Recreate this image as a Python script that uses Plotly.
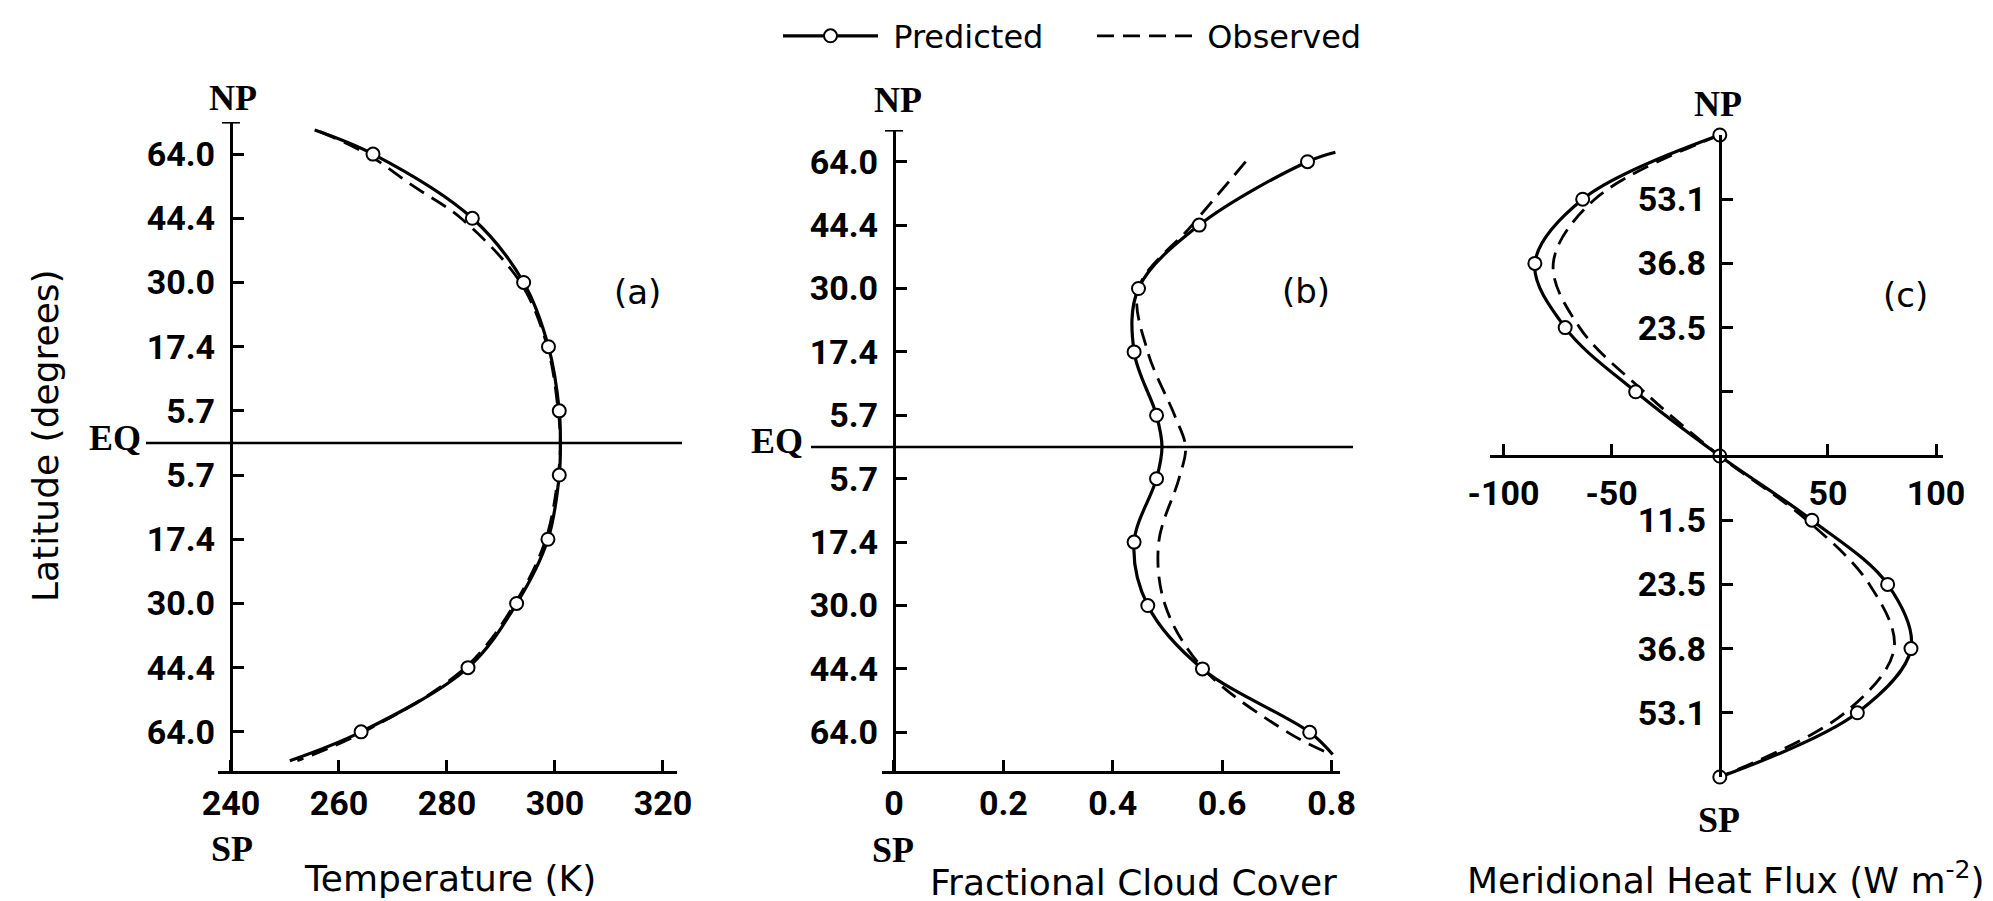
import plotly.graph_objects as go

# ---------------- data (latitude axis is sin(latitude)) ----------------
# Panel (a) temperature (K)
a_pred_lat = [0.975, 0.9, 0.7, 0.5, 0.3, 0.1, 0.0, -0.1, -0.3, -0.5, -0.7, -0.9, -0.99]
a_pred_val = [255.5, 266.3, 284.7, 294.2, 298.8, 300.8, 301.0, 300.8, 298.7, 292.9, 283.9, 264.1, 250.9]
a_mark_lat = [0.9, 0.7, 0.5, 0.3, 0.1, -0.1, -0.3, -0.5, -0.7, -0.9]
a_mark_val = [266.3, 284.7, 294.2, 298.8, 300.8, 300.8, 298.7, 292.9, 283.9, 264.1]
a_obs_lat = [0.97, 0.9, 0.8, 0.7, 0.5, 0.3, 0.1, 0.0, -0.1, -0.3, -0.5, -0.7, -0.9, -0.99]
a_obs_val = [256.5, 265.2, 273.8, 282.6, 293.6, 298.6, 300.6, 301.0, 300.6, 298.3, 292.6, 283.4, 264.6, 252.3]

# Panel (b) fractional cloud cover
b_pred_lat = [0.93, 0.9, 0.7, 0.5, 0.3, 0.1, 0.0, -0.1, -0.3, -0.5, -0.7, -0.9, -0.97]
b_pred_val = [0.807, 0.756, 0.558, 0.447, 0.439, 0.480, 0.490, 0.480, 0.439, 0.464, 0.564, 0.760, 0.802]
b_mark_lat = [0.9, 0.7, 0.5, 0.3, 0.1, -0.1, -0.3, -0.5, -0.7, -0.9]
b_mark_val = [0.756, 0.558, 0.447, 0.439, 0.480, 0.480, 0.439, 0.464, 0.564, 0.760]
b_obs_lat = [0.9, 0.7, 0.5, 0.3, 0.1, 0.0, -0.1, -0.3, -0.5, -0.7, -0.9, -0.97]
b_obs_val = [0.643, 0.545, 0.447, 0.464, 0.513, 0.533, 0.521, 0.484, 0.496, 0.566, 0.720, 0.800]

# Panel (c) meridional heat flux (W m-2)
c_lat = [1.0, 0.8, 0.6, 0.4, 0.2, 0.0, -0.2, -0.4, -0.6, -0.8, -1.0]
c_pred_val = [0.0, -63.4, -85.5, -71.5, -38.9, 0.0, 42.6, 77.6, 88.4, 63.6, 0.0]
c_obs_val = [0.0, -57.8, -77.0, -64.8, -35.0, 0.0, 40.3, 69.2, 80.6, 57.8, 0.0]

# tick labels
ab_tickvals = [0.9, 0.7, 0.5, 0.3, 0.1, -0.1, -0.3, -0.5, -0.7, -0.9]
ab_ticktext = ["64.0", "44.4", "30.0", "17.4", "5.7", "5.7", "17.4", "30.0", "44.4", "64.0"]
c_tickvals = [0.8, 0.6, 0.4, 0.2, -0.2, -0.4, -0.6, -0.8]
c_ticktext = ["53.1", "36.8", "23.5", "", "11.5", "23.5", "36.8", "53.1"]
a_xticks = [240, 260, 280, 300, 320]
b_xticks = [0, 0.2, 0.4, 0.6, 0.8]
b_xticktext = ["0", "0.2", "0.4", "0.6", "0.8"]
c_xticks = [-100, -50, 50, 100]
c_xticktext = ["-100", "-50", "50", "100"]

# ---------------- layout helpers ----------------
W, H = 1993, 901
def fx(p):
    return p / W
def fy(p):
    return 1 - p / H

TICKF = "Roboto, Liberation Sans, sans-serif"
SANS = "DejaVu Sans, Liberation Sans, sans-serif"
SERIF = "Liberation Serif, Times New Roman, serif"

LW = 3.2
MARK = dict(symbol="circle", size=13, color="white", line=dict(color="black", width=2))
DASH = "17px,9px"
NBSP = "\u00a0"

fig = go.Figure()

def add_panel(xa, ya, pl, pv, ml, mv, ol, ov):
    fig.add_trace(go.Scatter(x=ov, y=ol, xaxis=xa, yaxis=ya, mode="lines", name="Observed",
                             line=dict(color="black", width=2.8, dash=DASH, shape="spline"),
                             showlegend=False, cliponaxis=False, hoverinfo="skip"))
    fig.add_trace(go.Scatter(x=pv, y=pl, xaxis=xa, yaxis=ya, mode="lines", name="Predicted",
                             line=dict(color="black", width=LW, shape="spline"),
                             showlegend=False, cliponaxis=False, hoverinfo="skip"))
    fig.add_trace(go.Scatter(x=mv, y=ml, xaxis=xa, yaxis=ya, mode="markers", name="Predicted",
                             marker=MARK, showlegend=False, cliponaxis=False))

add_panel("x", "y", a_pred_lat, a_pred_val, a_mark_lat, a_mark_val, a_obs_lat, a_obs_val)
add_panel("x2", "y2", b_pred_lat, b_pred_val, b_mark_lat, b_mark_val, b_obs_lat, b_obs_val)

# panel c: markers at every point incl. poles -> lines+markers (also the legend entries)
fig.add_trace(go.Scatter(x=c_obs_val, y=c_lat, xaxis="x3", yaxis="y3", mode="lines",
                         name=NBSP + "Observed",
                         line=dict(color="black", width=2.8, dash=DASH, shape="spline"),
                         cliponaxis=False, legendrank=2))
fig.add_trace(go.Scatter(x=c_pred_val, y=c_lat, xaxis="x3", yaxis="y3", mode="lines+markers",
                         name=NBSP + "Predicted", line=dict(color="black", width=LW, shape="spline"),
                         marker=MARK, cliponaxis=False, legendrank=1))

tickfont = dict(family=TICKF, size=34, color="black", weight="bold")
common = dict(showgrid=False, zeroline=False, showline=True, linecolor="black", linewidth=LW,
              ticks="inside", ticklen=11, tickwidth=2.5, tickcolor="black", tickfont=tickfont,
              automargin=False)

# panel geometry (pixels)
a_dom = [fx(210), fx(669)]
b_dom = [fx(874), fx(1332)]
c_dom = [fx(1482), fx(1935)]
a_ydom = [fy(763), fy(114)]
b_ydom = [fy(763), fy(122)]
c_ydom = [fy(769), fy(127)]

fig.update_layout(
    width=W, height=H, margin=dict(l=0, r=0, t=0, b=0, autoexpand=False),
    paper_bgcolor="white", plot_bgcolor="rgba(0,0,0,0)",
    showlegend=True,
    legend=dict(orientation="h", x=fx(770), xanchor="left", y=fy(28), yanchor="middle",
                font=dict(family=SANS, size=32, color="black"), itemwidth=95,
                entrywidth=204, bgcolor="rgba(0,0,0,0)", traceorder="normal"),
    xaxis=dict(domain=a_dom, range=[237.6, 322.6], tickvals=a_xticks, anchor="y", **common),
    yaxis=dict(domain=a_ydom, range=[-1.022, 1.0], tickvals=ab_tickvals, ticktext=ab_ticktext,
               anchor="free", position=fx(223), ticklabelstandoff=8, **common),
    xaxis2=dict(domain=b_dom, range=[-0.0219, 0.8154], tickvals=b_xticks, ticktext=b_xticktext,
                anchor="y2", **common),
    yaxis2=dict(domain=b_ydom, range=[-1.022, 1.0], tickvals=ab_tickvals, ticktext=ab_ticktext,
                anchor="free", position=fx(886), ticklabelstandoff=8, **common),
    xaxis3=dict(domain=c_dom, range=[-106.25, 103.2], tickvals=c_xticks, ticktext=c_xticktext,
                anchor="free", position=(c_ydom[0] + c_ydom[1]) / 2, ticklabelstandoff=6, **common),
    yaxis3=dict(domain=c_ydom, range=[-1.0, 1.0], tickvals=c_tickvals, ticktext=c_ticktext,
                anchor="free", position=fx(1712), ticklabelstandoff=6, **common),
)

# equator lines and top caps of the latitude axes
shapes = [
    dict(type="line", xref="paper", yref="y", x0=fx(138), x1=fx(674), y0=0, y1=0,
         line=dict(color="black", width=2.6)),
    dict(type="line", xref="paper", yref="y2", x0=fx(803), x1=fx(1345), y0=0, y1=0,
         line=dict(color="black", width=2.6)),
    dict(type="line", xref="x", yref="y", xsizemode="pixel", xanchor=240, x0=-9, x1=9, y0=1, y1=1,
         line=dict(color="black", width=LW)),
    dict(type="line", xref="x2", yref="y2", xsizemode="pixel", xanchor=0, x0=-9, x1=9, y0=1, y1=1,
         line=dict(color="black", width=LW)),
]
fig.update_layout(shapes=shapes)

def ann(text, x, y, font, size, bold=False, **kw):
    f = dict(family=font, size=size, color="black")
    if bold:
        f["weight"] = "bold"
    return dict(text=text, x=fx(x), y=fy(y), xref="paper", yref="paper", showarrow=False,
                xanchor=kw.pop("xanchor", "center"), yanchor=kw.pop("yanchor", "middle"),
                font=f, **kw)

annotations = [
    ann("NP", 225, 90, SERIF, 36, True), ann("SP", 224, 841, SERIF, 36, True),
    ann("NP", 890, 92, SERIF, 36, True), ann("SP", 885, 842, SERIF, 36, True),
    ann("NP", 1710, 96, SERIF, 36, True), ann("SP", 1711, 812, SERIF, 36, True),
    ann("EQ", 135, 430, SERIF, 36, True, xanchor="right"),
    ann("EQ", 797, 433, SERIF, 36, True, xanchor="right"),
    ann("(a)", 629, 284, SANS, 34), ann("(b)", 1298, 283, SANS, 34), ann("(c)", 1897, 287, SANS, 34),
    ann("Temperature (K)", 442, 870, SANS, 36),
    ann("Fractional Cloud Cover", 1125, 874, SANS, 36),
    ann("Meridional Heat Flux (W m<sup>-2</sup>)", 1718, 870, SANS, 36),
    ann("Latitude (degrees)", 38, 428, SANS, 36, textangle=-90),
]
fig.update_layout(annotations=annotations)

fig.write_html("out.html")
